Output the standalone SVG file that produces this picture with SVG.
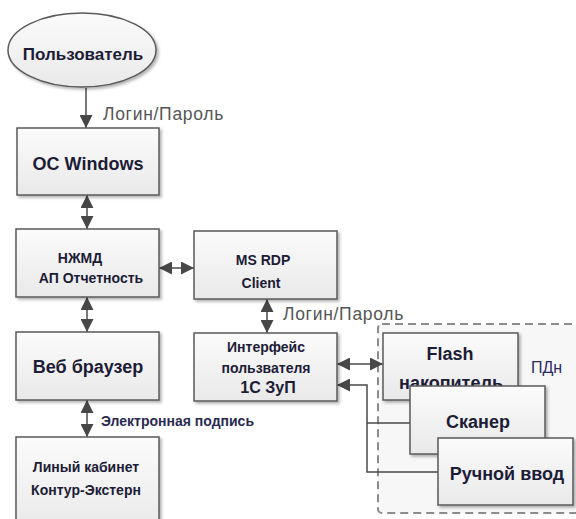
<svg xmlns="http://www.w3.org/2000/svg" width="576" height="519" viewBox="0 0 576 519">
<defs>
<linearGradient id="g" x1="0" y1="0" x2="0" y2="1">
<stop offset="0" stop-color="#fbfbfb"/>
<stop offset="1" stop-color="#e9e9e9"/>
</linearGradient>
<filter id="sh" x="-10%" y="-10%" width="125%" height="130%">
<feDropShadow dx="2" dy="2" stdDeviation="1.5" flood-color="#000" flood-opacity="0.3"/>
</filter>
<marker id="ah" viewBox="0 0 10 10" refX="10" refY="5" markerWidth="13" markerHeight="13" markerUnits="userSpaceOnUse" orient="auto-start-reverse">
<path d="M0,0 L10,5 L0,10 Z" fill="#474747"/>
</marker>
<style>
.box{fill:url(#g);stroke:#5a5a5a;stroke-width:1.5;filter:url(#sh)}
.t{font-family:"Liberation Sans",Arial,sans-serif;font-weight:bold;fill:#1c1c36;text-anchor:middle}
.lbl{font-family:"Liberation Sans",Arial,sans-serif;fill:#555;font-size:17.5px;letter-spacing:0.7px}
.c{stroke:#4a4a4a;stroke-width:1.5;fill:none}
</style>
</defs>
<rect width="576" height="519" fill="#fff"/>

<g id="pdn-region">
<rect x="378" y="324" width="230" height="189" rx="4" fill="#f7f7f7" stroke="#8c8c8c" stroke-width="2" stroke-dasharray="8,5"/>
<text x="531" y="373" font-family="Liberation Sans,Arial,sans-serif" font-size="16" fill="#2b2b66">ПДн</text>
</g>

<g id="connectors">
<line class="c" x1="86" y1="88" x2="86" y2="128" marker-end="url(#ah)"/>
<line class="c" x1="87" y1="195" x2="87" y2="229" marker-start="url(#ah)" marker-end="url(#ah)"/>
<line class="c" x1="87" y1="297" x2="87" y2="332" marker-start="url(#ah)" marker-end="url(#ah)"/>
<line class="c" x1="87" y1="400" x2="87" y2="437" marker-start="url(#ah)" marker-end="url(#ah)"/>
<line class="c" x1="159" y1="268" x2="194" y2="268" marker-start="url(#ah)" marker-end="url(#ah)"/>
<line class="c" x1="267" y1="299" x2="267" y2="333" marker-start="url(#ah)" marker-end="url(#ah)"/>
<line class="c" x1="337" y1="364" x2="383" y2="364" marker-start="url(#ah)" marker-end="url(#ah)"/>
<path class="c" d="M410,423 H367"/>
<path class="c" d="M438,472 H367 V385 H337" marker-end="url(#ah)"/>
<text class="lbl" x="103" y="120">Логин/Пароль</text>
<text class="lbl" x="283" y="320">Логин/Пароль</text>
<text x="101" y="426" font-family="Liberation Sans,Arial,sans-serif" font-weight="bold" font-size="14" fill="#2a2a50">Электронная подпись</text>
</g>

<g id="user">
<ellipse cx="82" cy="50" rx="74" ry="37" fill="url(#g)" stroke="#5a5a5a" stroke-width="1.5" filter="url(#sh)"/>
<text class="t" x="83" y="60" font-size="17">Пользователь</text>
</g>

<g id="os-windows">
<rect class="box" x="17" y="128" width="142" height="67"/>
<text class="t" x="88" y="170" font-size="18">ОС Windows</text>
</g>

<g id="hdd">
<rect class="box" x="16" y="229" width="143" height="68"/>
<text class="t" x="80" y="263" font-size="14">НЖМД</text>
<text class="t" x="91" y="283" font-size="14">АП Отчетность</text>
</g>

<g id="browser">
<rect class="box" x="16" y="332" width="143" height="68"/>
<text class="t" x="88" y="373" font-size="18">Веб браузер</text>
</g>

<g id="cabinet">
<rect class="box" x="16" y="437" width="143" height="95"/>
<text class="t" x="86" y="472" font-size="14">Линый кабинет</text>
<text class="t" x="86" y="495" font-size="14">Контур-Экстерн</text>
</g>

<g id="rdp">
<rect class="box" x="194" y="231" width="143" height="68"/>
<text class="t" x="263" y="265" font-size="14">MS RDP</text>
<text class="t" x="261" y="288" font-size="14">Client</text>
</g>

<g id="interface">
<rect class="box" x="194" y="333" width="143" height="68"/>
<text class="t" x="266" y="352" font-size="14">Интерфейс</text>
<text class="t" x="266" y="373" font-size="14">пользвателя</text>
<text class="t" x="268" y="393" font-size="16">1С ЗуП</text>
</g>

<g id="flash">
<rect class="box" x="383" y="333" width="135" height="67"/>
<text class="t" x="450" y="360" font-size="18">Flash</text>
<text class="t" x="451" y="389" font-size="18">накопитель</text>
</g>

<g id="scanner">
<rect class="box" x="410" y="386" width="135" height="68"/>
<text class="t" x="478" y="428" font-size="18">Сканер</text>
</g>

<g id="manual">
<rect class="box" x="438" y="438" width="135" height="67"/>
<text class="t" x="507" y="480" font-size="18">Ручной ввод</text>
</g>
</svg>
